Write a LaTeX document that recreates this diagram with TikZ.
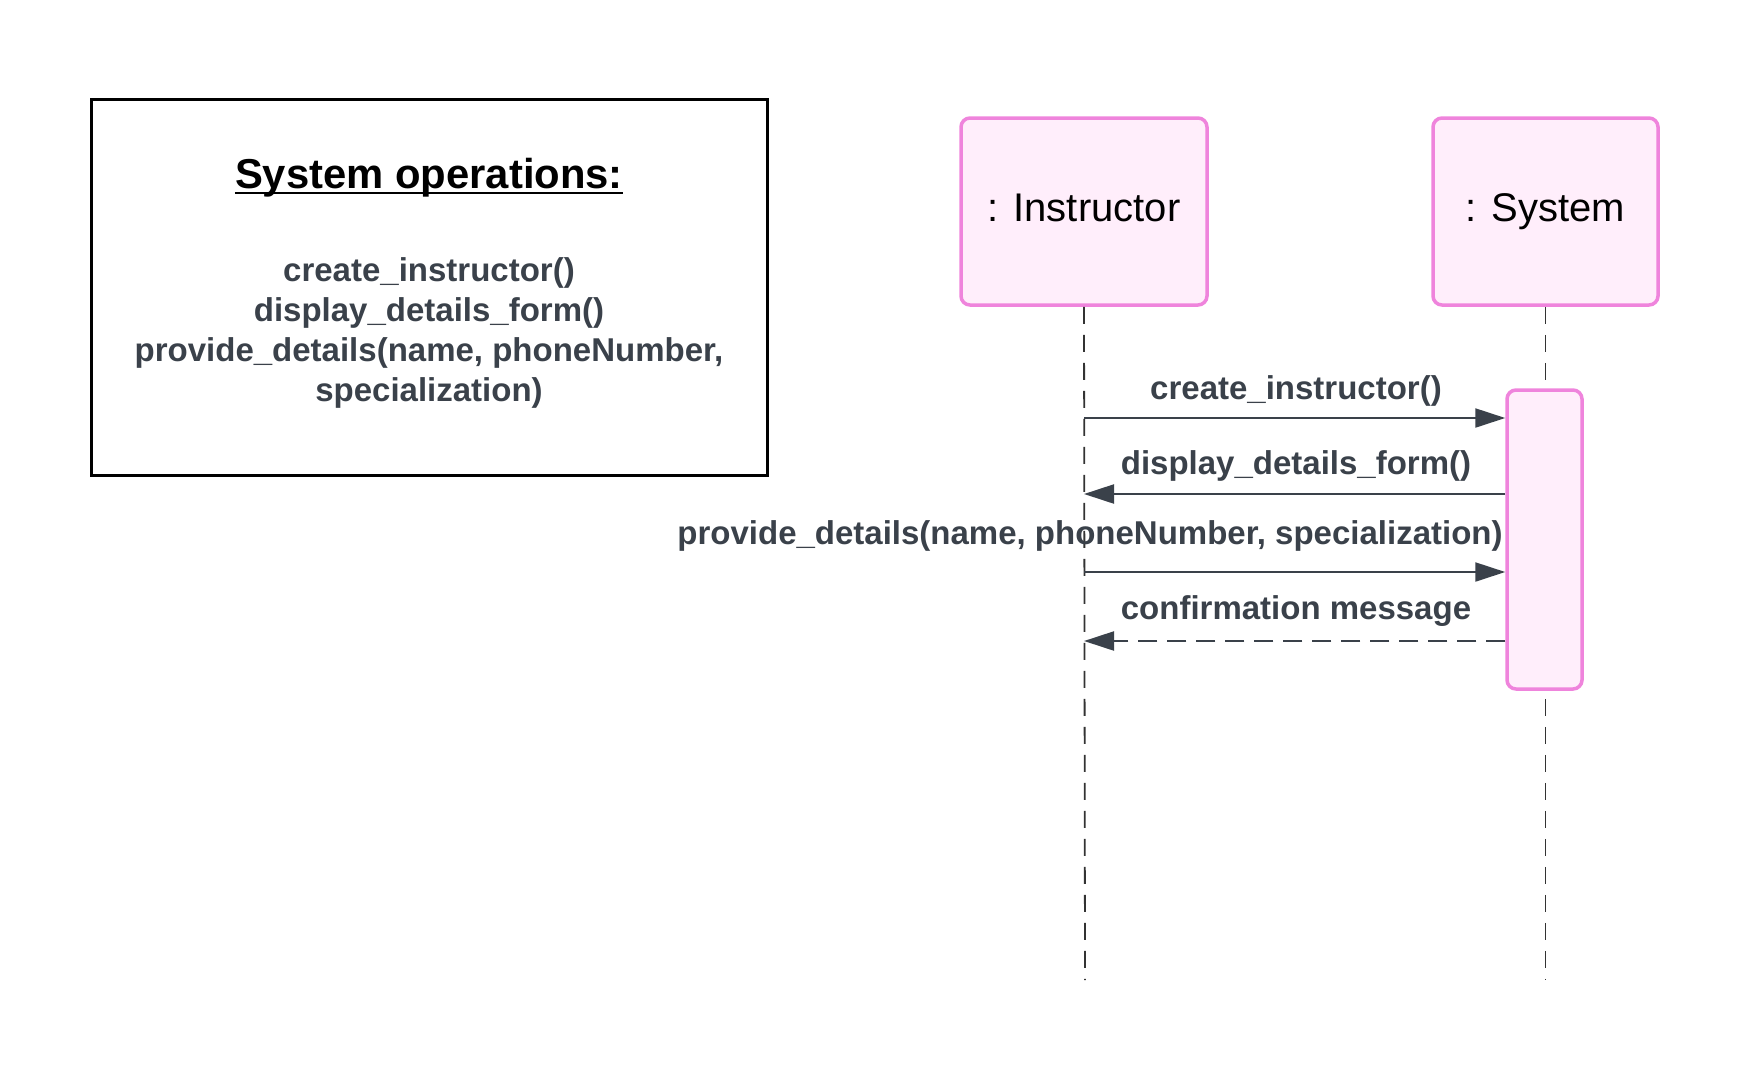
\documentclass[tikz,border=0pt]{standalone}
\usepackage{fontspec}
\setmainfont{Liberation Sans}
\usetikzlibrary{arrows.meta,calc}
\definecolor{ink}{HTML}{3A414A}
\definecolor{pinkfill}{HTML}{FFEEFB}
\definecolor{pinkline}{HTML}{EF84DC}
\definecolor{lifegray}{HTML}{333333}
\tikzset{
  lifebox/.style={draw=pinkline, fill=pinkfill, line width=3.5pt, rounded corners=9pt, inner sep=0pt},
  lifeline/.style={draw=lifegray, line width=1.8pt, dash pattern=on 17pt off 11pt},
  msglabel/.style={text=ink, font=\bfseries\fontsize{33}{40}\selectfont, inner sep=0pt},
  msg/.style={draw=ink, line width=2.2pt, -{Triangle[length=30pt,width=19pt]}},
  reply/.style={msg, dash pattern=on 19pt off 10pt},
}
\begin{document}
\begin{tikzpicture}[x=1pt,y=-1pt]
\path[use as bounding box] (0,0) rectangle (1759,1080);

% system operations box
\node[draw=black, line width=3pt, minimum width=676pt, minimum height=376pt, inner sep=0pt] (ops) at (429,287) {};
\node[anchor=base, inner sep=0pt, font=\bfseries\fontsize{41.8}{50}\selectfont] (title) at (429,188) {System operations:};
\draw[line width=2.8pt] ($(title.base west)+(0,5)$) -- ($(title.base east)+(0,5)$);
\node[msglabel, align=center] (opslist) at (429,333) {create\_instructor()\\display\_details\_form()\\provide\_details(name, phoneNumber,\\specialization)};

% lifelines
\node[lifebox, minimum width=246pt, minimum height=187pt, text depth=8.5pt, font=\fontsize{40}{48}\selectfont] (inst) at (1084,211.5) {: Instructor};
\node[lifebox, minimum width=225pt, minimum height=187pt, text depth=8.5pt, font=\fontsize{40}{48}\selectfont] (sys) at (1545.5,211.5) {: System};
\coordinate (instend) at (1085,980);
\coordinate (sysend) at (1545.5,980);
\draw[lifeline] (inst.south) -- (instend);
\draw[lifeline] (sys.south) -- (sysend);

% activation
\node[lifebox, minimum width=75pt, minimum height=299pt] (act) at (1544.5,539.5) {};

% messages
\coordinate (y1) at (0,418);
\coordinate (y2) at (0,494);
\coordinate (y3) at (0,572);
\coordinate (y4) at (0,641);
\node[msglabel] (m1) at (1296,390.5) {create\_instructor()};
\node[msglabel] (m2) at (1296,465.5) {display\_details\_form()};
\node[msglabel] (m3) at (1090,535.5) {provide\_details(name, phoneNumber, specialization)};
\node[msglabel] (m4) at (1296,611.5) {confirmation message};
\draw[msg] (inst.south |- y1) -- (act.west |- y1);
\draw[msg] (act.west |- y2) -- (inst.south |- y2);
\draw[msg] (inst.south |- y3) -- (act.west |- y3);
\draw[reply] (act.west |- y4) -- (inst.south |- y4);
\end{tikzpicture}
\end{document}
